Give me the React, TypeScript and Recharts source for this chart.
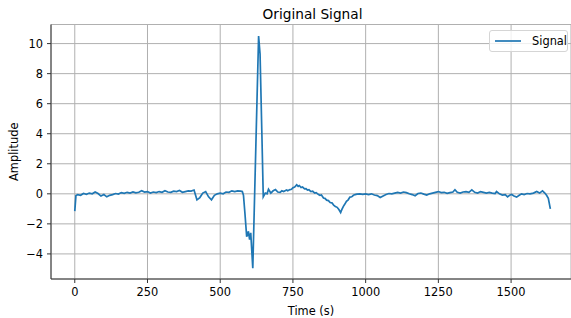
import { CartesianGrid, Customized, Legend, Line, LineChart, XAxis, YAxis } from "recharts";

// sample times (s); finer steps around the spike and the slow dip
const times = [
  0, 4, 10, 20, 30, 40, 50, 60, 70, 80, 90, 100, 110, 120, 130, 140, 150, 160, 170, 180, 190,
  200, 210, 220, 230, 240, 250, 260, 270, 280, 290, 300, 310, 320, 330, 340, 350, 360, 370, 380,
  390, 400, 410, 420, 430, 440, 450, 460, 470, 480, 490, 500, 510, 520, 530, 540, 550, 560, 570,
  576, 580, 585, 591, 597, 601, 605, 612, 632, 637, 643, 648, 655, 661, 666, 674, 682, 690, 698,
  706, 712, 718, 723, 728, 732, 740, 745, 750, 756, 763, 768, 772, 778, 783, 790, 795, 800, 805,
  812, 818, 825, 830, 838, 843, 848, 855, 860, 866, 872, 878, 884, 890, 896, 902, 908, 914, 918,
  923, 928, 934, 940, 946, 952, 958, 964, 970, 980, 990, 1000, 1010, 1020, 1030, 1040, 1050,
  1060, 1070, 1080, 1090, 1100, 1110, 1120, 1130, 1140, 1150, 1160, 1170, 1180, 1190, 1200, 1210,
  1220, 1230, 1240, 1250, 1260, 1270, 1280, 1290, 1300, 1307, 1315, 1325, 1335, 1345, 1355, 1365,
  1375, 1385, 1395, 1405, 1415, 1425, 1435, 1445, 1450, 1460, 1470, 1480, 1488, 1495, 1502, 1510,
  1519, 1528, 1536, 1545, 1555, 1565, 1577, 1588, 1598, 1608, 1616, 1622, 1628, 1635,
];

const amplitude = [
  -1.15, -0.12, -0.05, -0.1, 0.02, -0.03, 0.05, 0.0, 0.12, 0.02, -0.15, -0.05, -0.2, -0.1, -0.05,
  0.02, -0.02, 0.08, 0.03, 0.1, 0.05, 0.12, 0.06, 0.1, 0.2, 0.12, 0.15, 0.05, 0.12, 0.08, 0.15,
  0.1, 0.2, 0.12, 0.1, 0.18, 0.15, 0.22, 0.1, 0.15, 0.2, 0.18, 0.25, -0.4, -0.25, 0.05, 0.15,
  -0.2, -0.4, -0.1, 0.0, 0.05, 0.0, 0.12, 0.1, 0.2, 0.15, 0.2, 0.18, 0.15, -0.1, -1.3, -2.85,
  -2.5, -3.05, -2.6, -4.95, 10.5, 9.3, 4.2, -0.2, 0.05, 0.0, 0.3, 0.05, 0.2, 0.28, 0.12,
  0.1, 0.2, 0.15, 0.2, 0.25, 0.2, 0.28, 0.3, 0.4, 0.45, 0.6, 0.5, 0.55, 0.42, 0.45, 0.33, 0.35,
  0.25, 0.27, 0.15, 0.17, 0.05, 0.08, -0.05, -0.1, -0.08, -0.28, -0.3, -0.42, -0.45, -0.58,
  -0.6, -0.75, -0.85, -0.9, -1.05, -1.25, -1.05, -0.85, -0.7, -0.5, -0.4, -0.22, -0.2, -0.1,
  -0.05, -0.02, 0.0, -0.03, 0.0, -0.05, 0.0, -0.08, -0.12, -0.25, -0.15, -0.05, 0.02, 0.0, 0.05,
  0.1, 0.05, 0.12, 0.08, 0.0, -0.05, -0.13, 0.02, 0.05, -0.02, -0.08, 0.0, 0.05, 0.1, 0.15, 0.08,
  0.1, 0.03, 0.08, 0.12, 0.27, 0.1, 0.05, 0.12, 0.15, 0.1, 0.27, 0.1, 0.05, 0.15, 0.1, 0.05, 0.1,
  0.05, 0.02, 0.15, 0.0, -0.08, -0.05, -0.2, -0.1, -0.05, -0.15, -0.22, -0.1, 0.0, -0.05, 0.02,
  0.0, 0.05, 0.15, 0.05, 0.2, 0.05, -0.1, -0.3, -1.0,
];

const xTicks = [0, 250, 500, 750, 1000, 1250, 1500];
const yTicks = [-4, -2, 0, 2, 4, 6, 8, 10];

const data = times.map((t, i) => ({ time: t, amplitude: amplitude[i] }));

const FONT = "DejaVu Sans, sans-serif";
const SPINE = "#333";
const minus = (v: number) => String(v).replace("-", "\u2212");

function SignalLegend() {
  return (
    <div
      style={{
        width: 79,
        height: 22,
        boxSizing: "border-box",
        border: "1px solid #d5d5d5",
        borderRadius: 3,
        background: "rgba(255,255,255,0.8)",
        display: "flex",
        alignItems: "center",
        fontFamily: FONT,
        fontSize: 11.4,
        color: "#000",
      }}
    >
      <svg width={38} height={10} style={{ marginLeft: 4 }}>
        <line x1={1} y1={5} x2={27} y2={5} stroke="#1f77b4" strokeWidth={1.7} />
      </svg>
      <span>Signal</span>
    </div>
  );
}

export default function App() {
  return (
    <div style={{ position: "absolute", left: 0, top: 0, width: 571, height: 318, background: "#fff" }}>
      <LineChart width={571} height={318} data={data} margin={{ top: 24.5, right: 0, left: 0, bottom: 0 }}>
        <CartesianGrid stroke="#b0b0b0" strokeWidth={1} />
        <XAxis
          dataKey="time"
          type="number"
          domain={[-81.75, 1706]}
          allowDataOverflow
          ticks={xTicks}
          height={39}
          tickSize={4}
          tickMargin={5}
          stroke={SPINE}
          tick={{ fontSize: 11.4, fill: "#000", fontFamily: FONT }}
          label={{ value: "Time (s)", position: "insideBottom", offset: 3, style: { fontSize: 11.4, fill: "#000", fontFamily: FONT } }}
        />
        <XAxis xAxisId="top" orientation="top" type="number" domain={[-81.75, 1706]} height={0} tick={false} tickLine={false} stroke={SPINE} />
        <YAxis
          type="number"
          domain={[-5.67, 11.27]}
          allowDataOverflow
          ticks={yTicks}
          width={51}
          tickSize={4}
          tickMargin={4}
          stroke={SPINE}
          tickFormatter={minus}
          tick={{ fontSize: 11.4, fill: "#000", fontFamily: FONT }}
          label={{ value: "Amplitude", angle: -90, position: "insideLeft", offset: 14, style: { textAnchor: "middle", fontSize: 11.4, fill: "#000", fontFamily: FONT } }}
        />
        <Legend
          layout="horizontal"
          verticalAlign="middle"
          align="center"
          wrapperStyle={{ position: "absolute", left: 489, top: 30, width: 79 }}
          content={() => <SignalLegend />}
        />
        <Line type="linear" dataKey="amplitude" name="Signal" stroke="#1f77b4" strokeWidth={1.7} dot={false} isAnimationActive={false} />
        <Customized
          component={() => (
            <text x={312.5} y={14} textAnchor="middle" dominantBaseline="central" fontSize={13.7} fontFamily={FONT} fill="#000">
              Original Signal
            </text>
          )}
        />
      </LineChart>
    </div>
  );
}
